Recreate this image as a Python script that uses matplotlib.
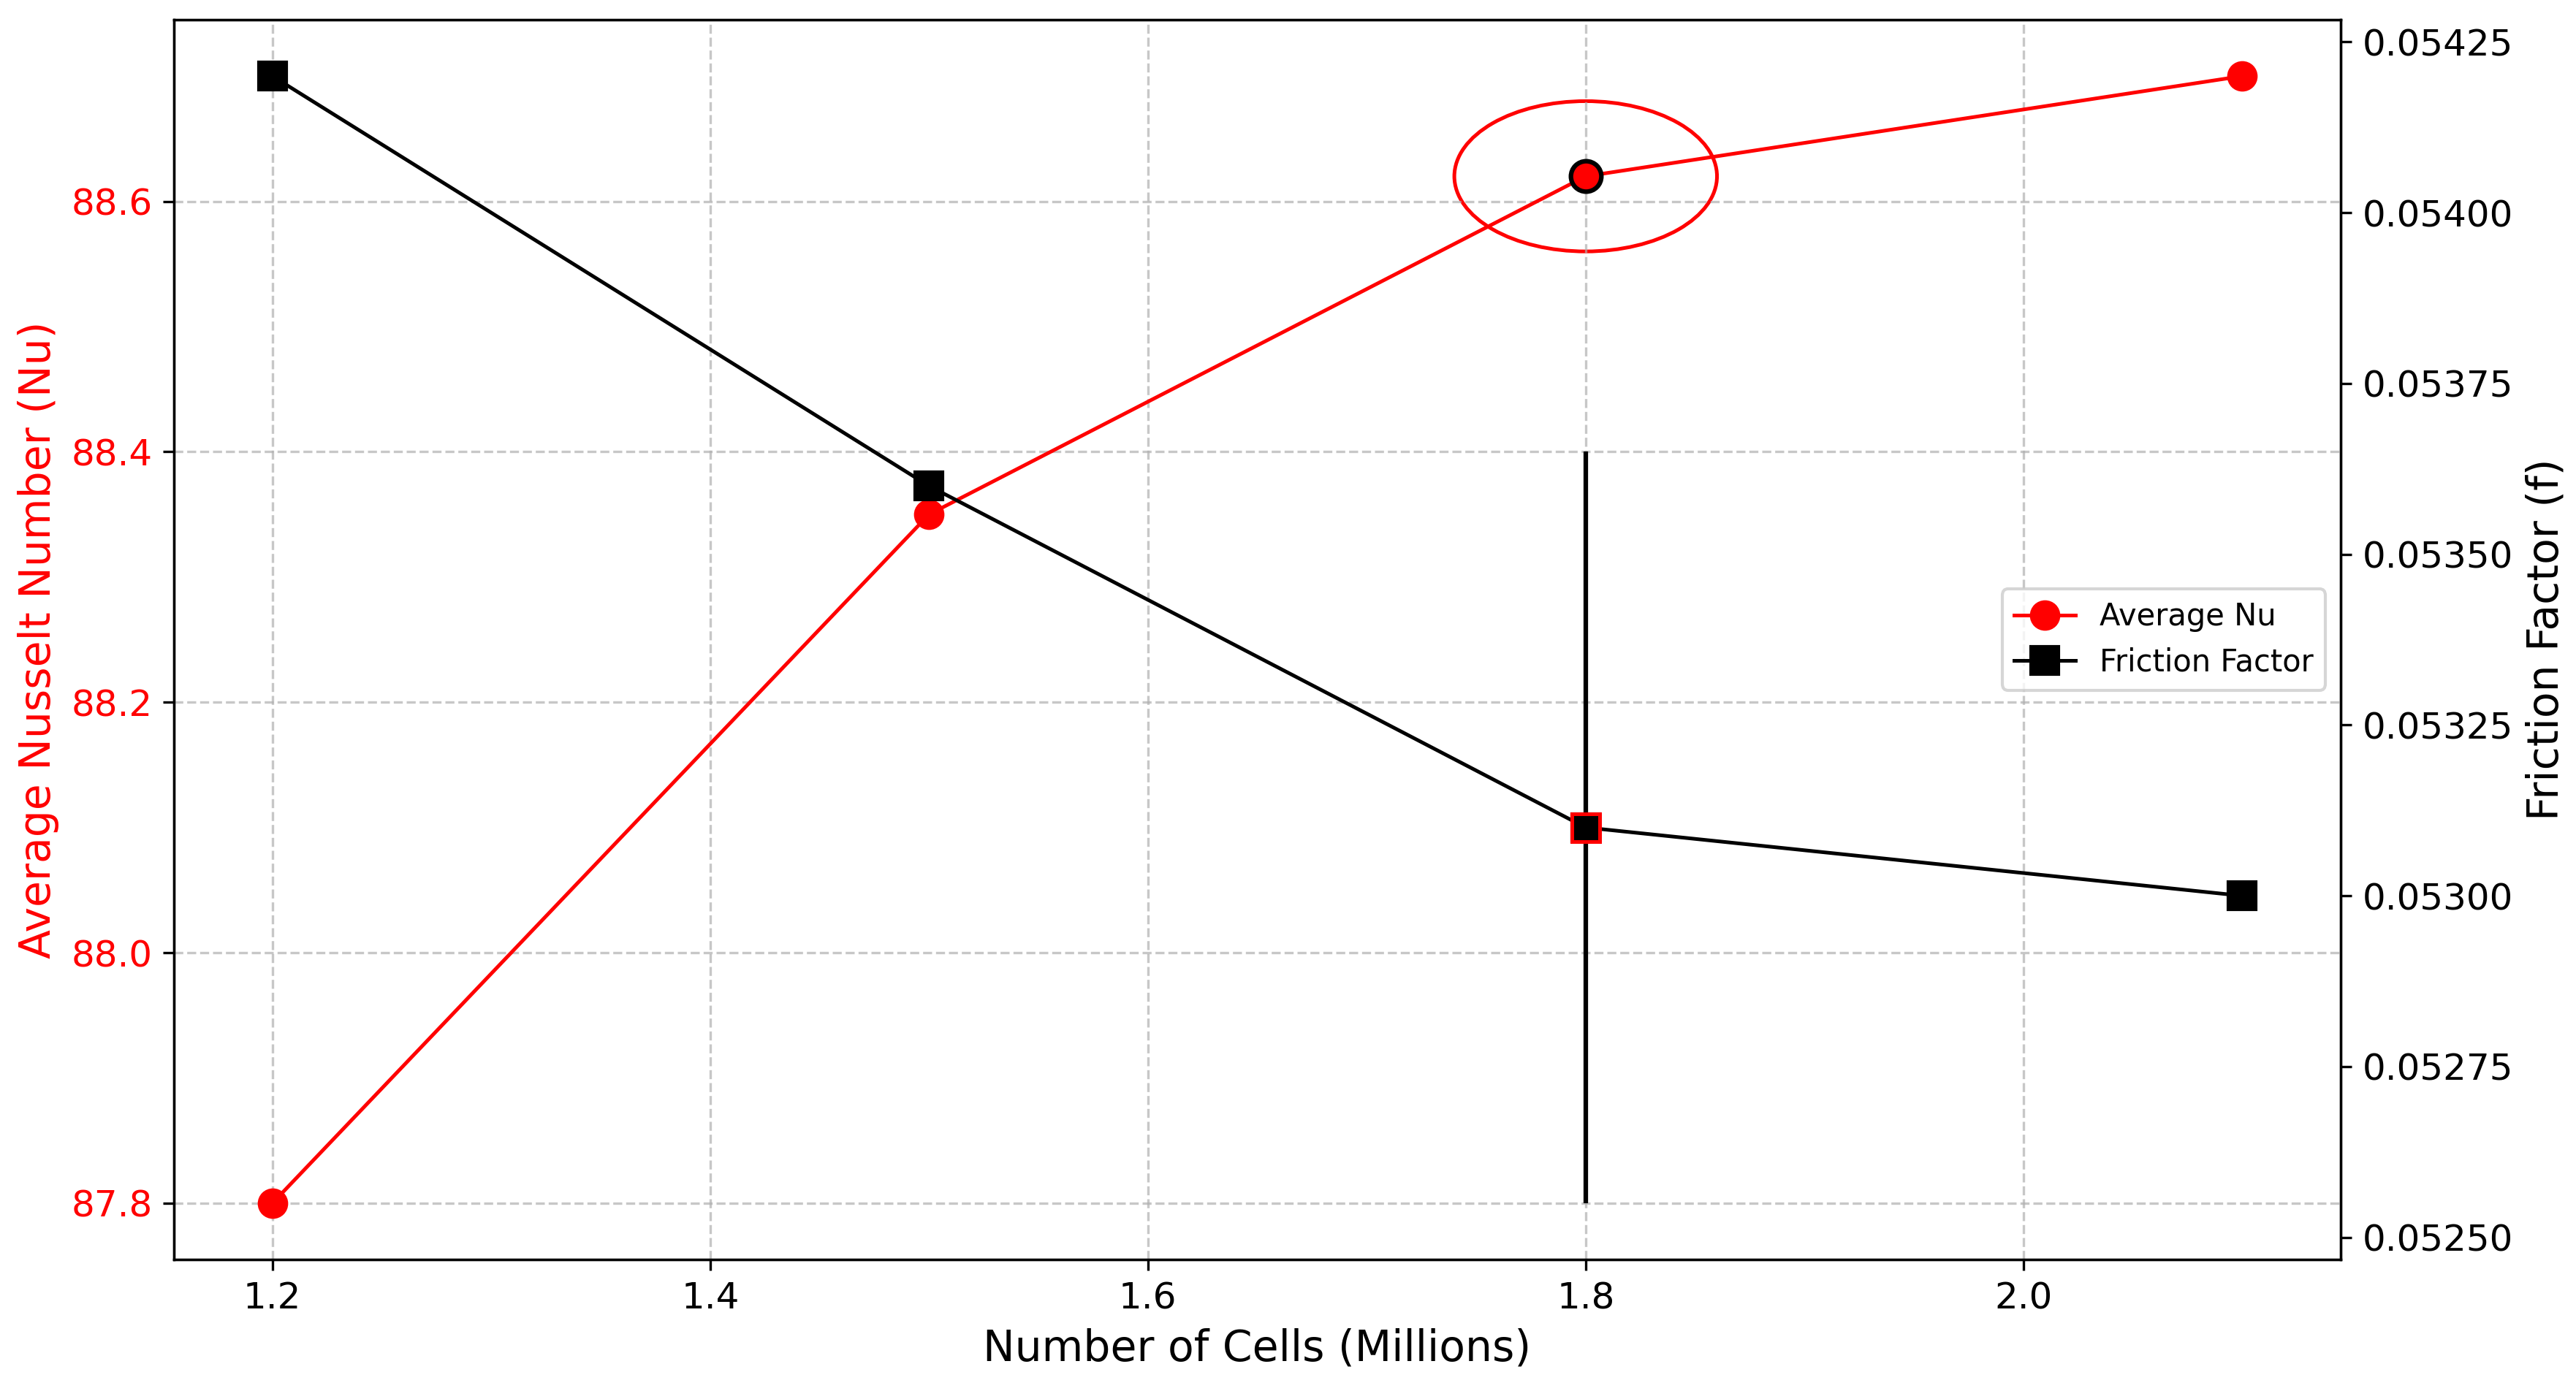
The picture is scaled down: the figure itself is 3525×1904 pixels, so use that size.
import matplotlib
matplotlib.use("Agg")
import matplotlib.pyplot as plt
from matplotlib.patches import Ellipse

# mesh independence data
cells = [1.2, 1.5, 1.8, 2.1]
nusselt = [87.8, 88.35, 88.62, 88.7]
friction = [0.0542, 0.0536, 0.0531, 0.0530]

# selected mesh
sel_cells = 1.8
sel_nu = 88.62
sel_f = 0.0531
sel_f_err = 0.00055

fig, ax1 = plt.subplots(figsize=(11.75, 6.3467), dpi=300)
fig.subplots_adjust(left=0.0675, right=0.9087, top=0.9858, bottom=0.0945)

l1, = ax1.plot(cells, nusselt, color='red', marker='o', markersize=9, lw=1.2, label='Average Nu')
ax1.plot(sel_cells, sel_nu, 'o', color='red', mec='black', mew=1.5, markersize=10, zorder=5)
ax1.add_patch(Ellipse((sel_cells, sel_nu), 0.12, 0.12, fill=False, edgecolor='red', lw=1.2))
ax1.set_xlabel('Number of Cells (Millions)', fontsize=14)
ax1.set_ylabel('Average Nusselt Number (Nu)', color='red', fontsize=14)
ax1.tick_params(axis='y', labelcolor='red', labelsize=12)
ax1.tick_params(axis='x', labelsize=12)
ax1.grid(True, linestyle='--', alpha=0.7)

ax2 = ax1.twinx()
l2, = ax2.plot(cells, friction, color='black', marker='s', markersize=9, lw=1.2, label='Friction Factor')
ax2.errorbar(sel_cells, sel_f, yerr=sel_f_err, fmt='s', color='black', mec='red', mew=1.2,
             markersize=9, elinewidth=1.5, capsize=0, zorder=5)
ax2.set_ylabel('Friction Factor (f)', fontsize=14)
ax2.tick_params(axis='y', labelsize=12)

ax2.legend([l1, l2], ['Average Nu', 'Friction Factor'], loc='center right', fontsize=10)

fig.savefig('out.png', dpi=300)
